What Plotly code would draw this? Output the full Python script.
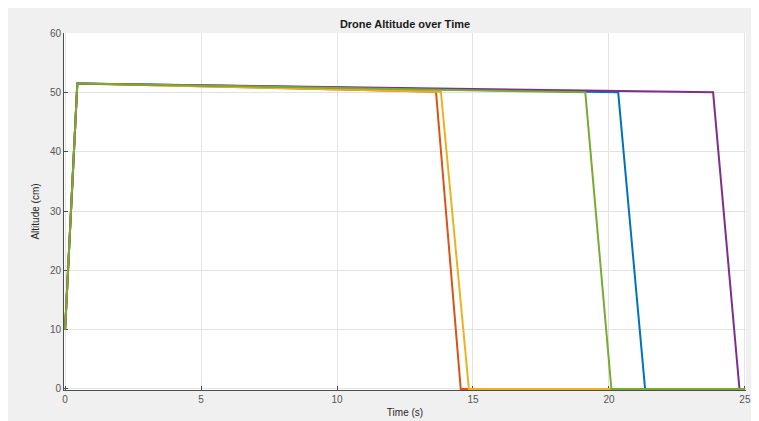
import plotly.graph_objects as go

# Data
series_names = ["Drone 1", "Drone 2", "Drone 3", "Drone 4", "Drone 5"]
series_colors = ["#0072BD", "#D95319", "#EDB120", "#7E2F8E", "#77AC30"]
times = [
    [0, 0.45, 20.34, 21.33, 25],
    [0, 0.45, 13.64, 14.55, 25],
    [0, 0.45, 13.82, 14.85, 25],
    [0, 0.45, 23.83, 24.80, 25],
    [0, 0.45, 19.13, 20.09, 25],
]
altitudes = [
    [10, 51.5, 50.0, 0, 0],
    [10, 51.5, 50.1, 0, 0],
    [10, 51.5, 50.1, 0, 0],
    [10, 51.5, 50.0, 0, 0],
    [10, 51.5, 50.0, 0, 0],
]
x_ticks = [0, 5, 10, 15, 20, 25]
y_ticks = [0, 10, 20, 30, 40, 50, 60]

W, H = 759, 421
L, R, T, B = 56, 21, 25, 39
pw, ph = W - L - R, H - T - B

fig = go.Figure()
for name, c, t, a in zip(series_names, series_colors, times, altitudes):
    fig.add_trace(go.Scatter(x=t, y=a, mode="lines", name=name,
                             line=dict(color=c, width=2), showlegend=False))

axis_common = dict(
    showgrid=True, gridcolor="#e3e3e3", gridwidth=1,
    zeroline=False, showline=True, linecolor="#4d4d4d", linewidth=1,
    ticks="inside", ticklen=4, tickcolor="#4d4d4d",
    tickfont=dict(family="Liberation Sans, Arial", size=10, color="#555555"),
    mirror=False, layer="below traces",
)

fig.update_layout(
    width=W, height=H,
    margin=dict(l=L, r=R, t=T, b=B),
    paper_bgcolor="#f0f0f0",
    plot_bgcolor="white",
    title=dict(text="<b>Drone Altitude over Time</b>", x=(L + pw / 2) / W,
               xanchor="center", y=1 - 16 / H, yanchor="middle",
               yref="container",
               font=dict(family="Liberation Sans, Arial", size=11, color="#1a1a1a")),
    xaxis=dict(range=[-0.04, 25.04], tickvals=x_ticks,
               title=dict(text="Time (s)", standoff=4,
                          font=dict(family="Liberation Sans, Arial", size=10, color="#262626")),
               **axis_common),
    yaxis=dict(range=[-0.17, 60], tickvals=y_ticks,
               title=dict(text="Altitude (cm)", standoff=8,
                          font=dict(family="Liberation Sans, Arial", size=10, color="#262626")),
               **axis_common),
)

fig.write_html("out.html")
